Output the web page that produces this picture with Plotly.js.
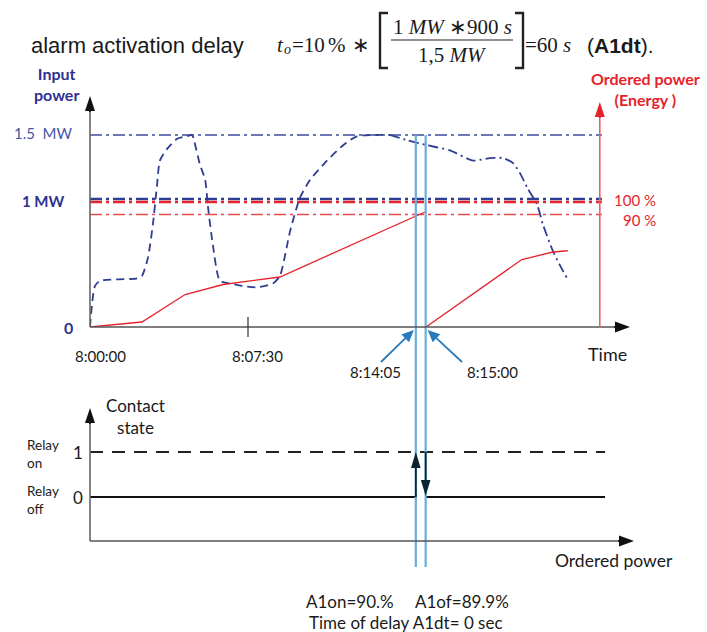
<!DOCTYPE html>
<html>
<head>
<meta charset="utf-8">
<script src="https://cdn.plot.ly/plotly-3.0.1.min.js"></script>
<style>html,body{margin:0;padding:0;background:#fff;}#chart{width:707px;height:632px;}</style>
</head>
<body>
<div id="chart"></div>
<script>
// ---------------- data ----------------
const timeTickSec = [0, 450];
const timeTickLabels = ['8:00:00', '8:07:30'];
const eventSec = [928, 956];
const eventLabels = ['8:14:05', '8:15:00'];

// input power (MW), dashed part
const inputSecDashed = [0, 14, 28, 134, 148, 165, 179, 191, 199, 219, 248, 276, 290, 293, 313, 328, 336, 350, 370, 399, 436, 476, 521, 541, 570, 598, 627, 675, 721, 760, 854];
const inputMWDashed  = [0, 0.32, 0.36, 0.38, 0.40, 0.54, 0.80, 1.11, 1.30, 1.39, 1.47, 1.49, 1.5, 1.49, 1.27, 1.15, 0.94, 0.64, 0.36, 0.34, 0.32, 0.31, 0.34, 0.40, 0.75, 1.01, 1.15, 1.30, 1.42, 1.49, 1.5];
// input power (MW), dash-dot part
const inputSecDashDot = [854, 903, 960, 1025, 1091, 1139, 1176, 1205, 1225, 1247, 1273, 1290, 1319, 1339, 1359];
const inputMWDashDot  = [1.5, 1.46, 1.42, 1.38, 1.30, 1.32, 1.32, 1.28, 1.20, 1.08, 0.96, 0.80, 0.59, 0.48, 0.38];

// ordered power (% of 1 MW)
const orderedSec1 = [0, 148, 271, 379, 541, 954];
const orderedPct1 = [0, 4, 26, 34, 40, 92];
const orderedSec2 = [957, 1230, 1319, 1361];
const orderedPct2 = [0, 54, 60, 61];

// reference levels
const levelMW = [1.5, 1.0];
const levelMWLabels = ['1.5  MW', '1 MW'];
const levelPct = [100, 90];
const levelPctLabels = ['100 %', '90 %'];
const levelEndSec = 1458;
const energyAxisSec = 1452;

// relay contact state
const relayStates = [0, 1];
const relayEndSec = 1467;

// ---------------- layout helpers ----------------
const W = 707, H = 632;
const XPX0 = 90, XPX1 = 630, XMAX = 1538;
const TOP_ZERO = 327, TOP_TOP = 95, MW_PX = 128, PCT_PX = 1.25;
const BOT_ZERO = 497, BOT_UNIT = 45, BOT_BOTTOM = 541, BOT_TOP = 408;
const pxT = t => XPX0 + t * (XPX1 - XPX0) / XMAX;
const pyMW = v => TOP_ZERO - v * MW_PX;
const pyRelay = v => BOT_ZERO - v * BOT_UNIT;
const fx = px => px / W;
const fy = py => 1 - py / H;

const NAVY = '#2e3192', BLUE_LINE = '#2f3d92', RED = '#e5232b', LIGHT_BLUE = '#6aaedb', AX = '#666666';
const SANS = 'Lato, "Open Sans", sans-serif';
const ARIAL = '"Liberation Sans", Arial, sans-serif';
const SERIF = '"Liberation Serif", "Times New Roman", serif';

const traces = [];
// level lines
traces.push({x: [0, levelEndSec], y: [levelMW[0], levelMW[0]], xaxis: 'x', yaxis: 'y', mode: 'lines',
  line: {color: '#3d4c9e', width: 1.5, dash: '12px,4px,3px,4px'}, hoverinfo: 'skip'});
traces.push({x: [0, levelEndSec], y: [levelMW[1], levelMW[1]], xaxis: 'x', yaxis: 'y', mode: 'lines',
  line: {color: BLUE_LINE, width: 2.6, dash: '12px,4px,3px,4px'}, hoverinfo: 'skip'});
traces.push({x: [0, levelEndSec], y: [levelPct[0], levelPct[0]], xaxis: 'x', yaxis: 'y2', mode: 'lines',
  line: {color: RED, width: 2.4, dash: '12px,4px,3px,4px'}, hoverinfo: 'skip'});
traces.push({x: [0, levelEndSec], y: [levelPct[1], levelPct[1]], xaxis: 'x', yaxis: 'y2', mode: 'lines',
  line: {color: '#e8474e', width: 1.5, dash: '12px,4px,3px,4px'}, hoverinfo: 'skip'});
// input power
traces.push({x: inputSecDashed, y: inputMWDashed, xaxis: 'x', yaxis: 'y', mode: 'lines',
  line: {color: BLUE_LINE, width: 1.8, dash: '8px,5px', shape: 'spline', smoothing: 0.6}});
traces.push({x: inputSecDashDot, y: inputMWDashDot, xaxis: 'x', yaxis: 'y', mode: 'lines',
  line: {color: BLUE_LINE, width: 1.8, dash: '10px,4px,2px,4px', shape: 'spline', smoothing: 0.6}});
// ordered power
traces.push({x: orderedSec1, y: orderedPct1, xaxis: 'x', yaxis: 'y2', mode: 'lines', line: {color: RED, width: 1.3}});
traces.push({x: orderedSec2, y: orderedPct2, xaxis: 'x', yaxis: 'y2', mode: 'lines', line: {color: RED, width: 1.3}});
// relay
traces.push({x: [0, relayEndSec], y: [relayStates[1], relayStates[1]], xaxis: 'x2', yaxis: 'y3', mode: 'lines',
  line: {color: '#222', width: 1.8, dash: '13px,9px'}});
traces.push({x: [0, eventSec[0]], y: [relayStates[0], relayStates[0]], xaxis: 'x2', yaxis: 'y3', mode: 'lines',
  line: {color: '#111', width: 1.8}});
traces.push({x: [eventSec[1], relayEndSec], y: [relayStates[0], relayStates[0]], xaxis: 'x2', yaxis: 'y3', mode: 'lines',
  line: {color: '#111', width: 1.8}});

// ---------------- shapes ----------------
const shapes = [];
function pline(x0, y0, x1, y1, color, width, dash) {
  shapes.push({type: 'line', xref: 'paper', yref: 'paper', x0: fx(x0), y0: fy(y0), x1: fx(x1), y1: fy(y1),
    line: {color: color, width: width, dash: dash || 'solid'}});
}
// arrow from (x0,y0) to tip (x1,y1) in pixels, with filled triangular head
function arrow(x0, y0, x1, y1, color, width, len, hw) {
  const dx = x1 - x0, dy = y1 - y0, d = Math.hypot(dx, dy), ux = dx / d, uy = dy / d;
  const bx = x1 - ux * len, by = y1 - uy * len;
  pline(x0, y0, x1 - ux * (len - 2), y1 - uy * (len - 2), color, width);
  const pts = [[x1, y1], [bx - uy * hw, by + ux * hw], [bx + uy * hw, by - ux * hw]];
  const p = pts.map(q => fx(q[0]).toFixed(5) + ',' + fy(q[1]).toFixed(5));
  shapes.push({type: 'path', xref: 'paper', yref: 'paper', path: 'M' + p[0] + 'L' + p[1] + 'L' + p[2] + 'Z',
    fillcolor: color, line: {width: 0}});
}
// event (blue) vertical lines
eventSec.forEach(t => {
  pline(pxT(t), pyMW(levelMW[0]), pxT(t), 567, LIGHT_BLUE, 2.2);
});
// top axes
pline(XPX0, TOP_ZERO, XPX0, 110, AX, 1.6);
arrow(XPX0, 112, XPX0, 96, '#111', 1.6, 15, 5);
pline(XPX0, TOP_ZERO, 616, TOP_ZERO, '#555', 1.6);
arrow(614, TOP_ZERO, 630, TOP_ZERO, '#111', 1.6, 15, 5.5);
// energy axis
pline(pxT(energyAxisSec), TOP_ZERO, pxT(energyAxisSec), 116, '#e8636b', 1.6);
arrow(pxT(energyAxisSec), 118, pxT(energyAxisSec), 102, RED, 1.6, 15, 5);
// tick at 8:07:30
pline(pxT(timeTickSec[1]), TOP_ZERO - 10, pxT(timeTickSec[1]), TOP_ZERO + 10, '#333', 1.2);
// bottom axes
pline(XPX0, BOT_BOTTOM, XPX0, 422, AX, 1.6);
arrow(XPX0, 424, XPX0, BOT_TOP, '#111', 1.6, 15, 5);
pline(XPX0, BOT_BOTTOM, 620, BOT_BOTTOM, '#555', 1.6);
arrow(618, BOT_BOTTOM, 634, BOT_BOTTOM, '#111', 1.6, 15, 5.5);
// relay switching arrows
arrow(pxT(eventSec[0]), pyRelay(0), pxT(eventSec[0]), pyRelay(1), '#0b2433', 1.8, 16, 4.8);
arrow(pxT(eventSec[1]), pyRelay(1), pxT(eventSec[1]), pyRelay(0) - 1, '#0b2433', 1.8, 16, 4.8);
// pointer arrows to event times
arrow(381, 362, pxT(eventSec[0]) - 2, 330, '#2a7bbb', 1.8, 12, 5.5);
arrow(462, 362, pxT(eventSec[1]) + 2, 330, '#2a7bbb', 1.8, 12, 5.5);
// formula: fraction line and brackets
pline(391, 40, 513, 40, '#222', 1.2);
shapes.push({type: 'path', xref: 'paper', yref: 'paper',
  path: 'M' + fx(388) + ',' + fy(13) + 'L' + fx(380) + ',' + fy(13) + 'L' + fx(380) + ',' + fy(68) + 'L' + fx(388) + ',' + fy(68),
  line: {color: '#222', width: 2.4}});
shapes.push({type: 'path', xref: 'paper', yref: 'paper',
  path: 'M' + fx(515) + ',' + fy(13) + 'L' + fx(523) + ',' + fy(13) + 'L' + fx(523) + ',' + fy(68) + 'L' + fx(515) + ',' + fy(68),
  line: {color: '#222', width: 2.4}});

// ---------------- annotations ----------------
const ann = [];
function txt(text, px, py, o) {
  o = o || {};
  ann.push({xref: 'paper', yref: 'paper', x: fx(px), y: fy(py), text: text, showarrow: false,
    xanchor: o.anchor || 'center', yanchor: 'middle', align: o.align || 'center',
    font: {family: o.family || SANS, size: o.size || 15, color: o.color || '#1a1a1a'}});
}
// title + formula
txt('alarm activation delay', 29, 45, {anchor: 'left', family: ARIAL, size: 22, color: '#1a1a1a'});
txt('<i>t</i>', 275, 45, {anchor: 'left', family: SERIF, size: 21});
txt('<i>o</i>', 282, 50, {anchor: 'left', family: SERIF, size: 14});
txt('=10', 290, 45, {anchor: 'left', family: SERIF, size: 21});
txt('%', 326, 45, {anchor: 'left', family: SERIF, size: 21});
txt('\u2217', 350, 45, {anchor: 'left', family: SERIF, size: 21});
txt('1 <i>MW</i> \u2217900 <i>s</i>', 452, 27, {family: SERIF, size: 21});
txt('1,5 <i>MW</i>', 452, 55, {family: SERIF, size: 21});
txt('=60 <i>s</i>', 523, 45, {anchor: 'left', family: SERIF, size: 21});
txt('(<b>A1dt</b>).', 585, 45, {anchor: 'left', family: ARIAL, size: 21});

// top panel labels
txt('<b>Input<br>power</b>', 57, 84, {color: NAVY, size: 16});
txt(levelMWLabels[0], 75, pyMW(levelMW[0]) - 2, {anchor: 'right', color: '#4656a5', size: 15});
txt('<b>' + levelMWLabels[1] + '</b>', 67, 201, {anchor: 'right', color: NAVY, size: 15});
txt('<b>0</b>', 68, TOP_ZERO, {color: NAVY, size: 16});
txt('<b>Ordered power<br>(Energy )</b>', 645, 89, {color: RED, size: 16});
txt(levelPctLabels[0], 612, 200, {anchor: 'left', color: RED, size: 15});
txt(levelPctLabels[1], 621, 220, {anchor: 'left', color: RED, size: 15});
timeTickSec.forEach((t, i) => txt(timeTickLabels[i], pxT(t) + 10, 356, {size: 15}));
txt(eventLabels[0], 375, 372, {size: 15});
txt(eventLabels[1], 492, 372, {size: 15});
txt('Time', 607, 354, {size: 18});

// bottom panel labels
txt('Contact<br>state', 135, 416, {size: 17});
txt('Relay<br>on', 25, 454, {anchor: 'left', align: 'left', size: 13.5});
txt('Relay<br>off', 25, 500, {anchor: 'left', align: 'left', size: 13.5});
txt(String(relayStates[1]), 78, pyRelay(1), {size: 17});
txt(String(relayStates[0]), 78, pyRelay(0), {size: 17});
txt('Ordered power', 614, 560, {size: 17.5});
txt('A1on=90.%', 304, 601, {anchor: 'left', size: 17});
txt('A1of=89.9%', 413, 601, {anchor: 'left', size: 17});
txt('Time of delay A1dt= 0 sec', 406, 622, {size: 17});

const layout = {
  width: W, height: H, margin: {l: 0, r: 0, t: 0, b: 0},
  paper_bgcolor: '#ffffff', plot_bgcolor: 'rgba(0,0,0,0)', showlegend: false,
  xaxis: {domain: [fx(XPX0), fx(XPX1)], range: [0, XMAX], visible: false, anchor: 'y'},
  yaxis: {domain: [fy(TOP_ZERO), fy(TOP_TOP)], range: [0, (TOP_ZERO - TOP_TOP) / MW_PX], visible: false, anchor: 'x'},
  yaxis2: {overlaying: 'y', range: [0, (TOP_ZERO - TOP_TOP) / PCT_PX], visible: false, anchor: 'x'},
  xaxis2: {domain: [fx(XPX0), fx(XPX1)], range: [0, XMAX], visible: false, anchor: 'y3'},
  yaxis3: {domain: [fy(BOT_BOTTOM), fy(BOT_TOP)], range: [(BOT_ZERO - BOT_BOTTOM) / BOT_UNIT, (BOT_ZERO - BOT_TOP) / BOT_UNIT], visible: false, anchor: 'x2'},
  shapes: shapes, annotations: ann
};
Plotly.newPlot('chart', traces, layout, {displayModeBar: false, staticPlot: true});
</script>
</body>
</html>
